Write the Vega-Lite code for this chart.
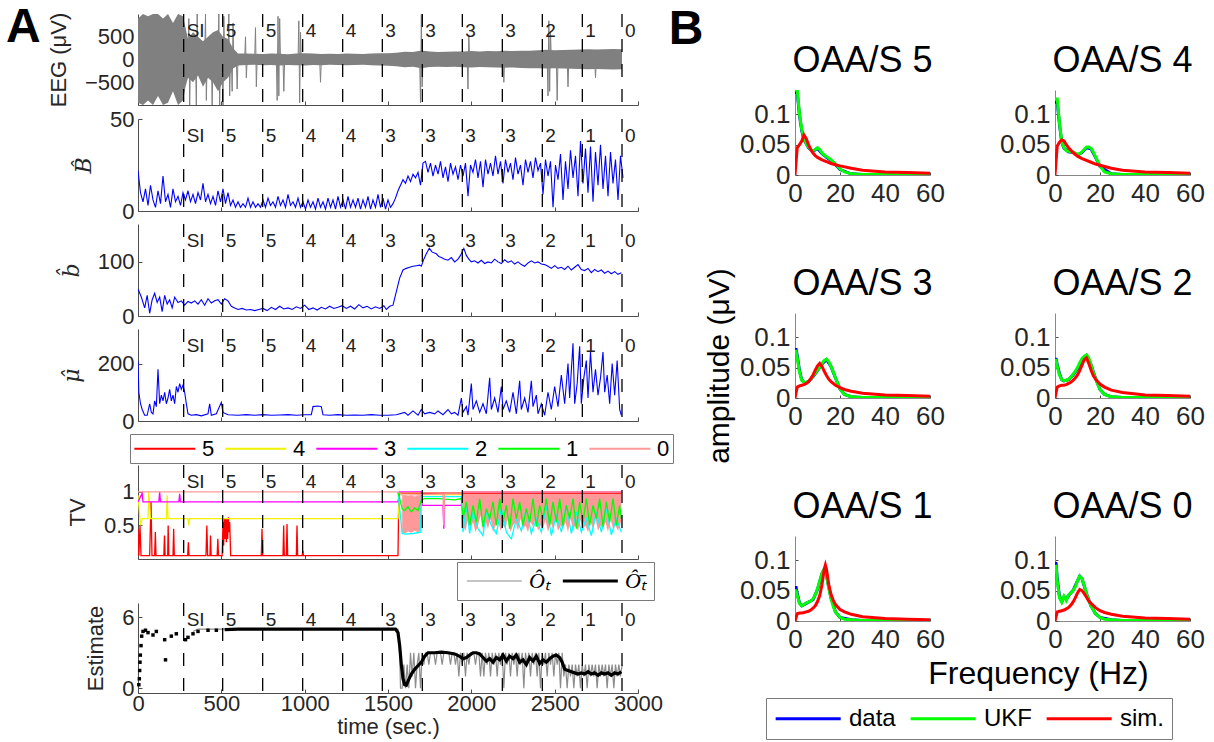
{
"$schema":"https://vega.github.io/schema/vega-lite/v6.json",
"padding":{"left":6,"top":4,"right":0,"bottom":0},
"config":{
 "font":"Liberation Sans",
 "view":{"stroke":null},
 "axis":{"grid":false,"domainColor":"#4d4d4d","tickColor":"#4d4d4d","labelColor":"#262626","titleColor":"#262626","labelFont":"Liberation Sans","titleFont":"Liberation Sans","titleFontWeight":"normal","labelFontSize":22,"titleFontSize":22,"tickSize":-4,"labelPadding":8,"titlePadding":14,"labelFlush":false,"labelOverlap":false},
 "title":{"font":"Liberation Sans","fontWeight":"normal","color":"#000000"},
 "legend":{"labelFont":"Liberation Sans","labelColor":"#000000","strokeColor":"#7a7a7a","fillColor":"#ffffff"}
},
"resolve":{"scale":{"color":"independent","strokeWidth":"independent"},"legend":{"color":"independent","strokeWidth":"independent"}},
"spacing":-6,
"hconcat":[
{
 "title":{"text":"A","orient":"left","anchor":"end","angle":0,"align":"right","baseline":"top","fontSize":48,"fontWeight":"bold","offset":-28,"dy":-8,"frame":"bounds"},
 "spacing":1,
 "resolve":{"scale":{"color":"independent","strokeWidth":"independent"},"legend":{"color":"independent","strokeWidth":"independent"}},
 "vconcat":[
  {"width":500,"height":91,"layer":[
   {"data":{"name":"eegband"},"mark":{"type":"area","color":"#808080","opacity":1,"clip":true},
    "encoding":{"x":{"field":"t","type":"quantitative","scale":{"domain":[0,3000],"nice":false,"zero":false},"axis":{"values":[0,500,1000,1500,2000,2500,3000],"labels":false,"title":null}},
     "y":{"field":"lo","type":"quantitative","scale":{"domain":[-1000,1000],"nice":false,"zero":false},"axis":{"values":[-500,0,500],"format":"~f","title":"EEG (μV)"}},
     "y2":{"field":"hi"}}},
   {"data":{"name":"eegspk"},"mark":{"type":"line","color":"#808080","strokeWidth":1,"clip":true},"encoding":{"x":{"field":"t","type":"quantitative"},"y":{"field":"v","type":"quantitative"}}},
   {"data":{"name":"events"},"mark":{"type":"rule","color":"#000000","strokeDash":[13,12],"strokeWidth":1.3},"encoding":{"x":{"field":"t","type":"quantitative"}}},
   {"data":{"name":"events"},"mark":{"type":"text","align":"left","baseline":"top","dx":3,"dy":8,"fontSize":19,"color":"#222222"},"encoding":{"x":{"field":"t","type":"quantitative"},"y":{"datum":1000},"text":{"field":"label"}}}
  ]},
  {"width":500,"height":92,"layer":[
   {"data":{"name":"Bhat"},"mark":{"type":"line","color":"#0000ff","strokeWidth":1.1,"clip":true},
    "encoding":{"x":{"field":"t","type":"quantitative","scale":{"domain":[0,3000],"nice":false,"zero":false},"axis":{"values":[0,500,1000,1500,2000,2500,3000],"labels":false,"title":null}},
     "y":{"field":"v","type":"quantitative","scale":{"domain":[0,50],"nice":false},"axis":{"values":[0,50],"format":"~f","title":"B̂","titleFont":"DejaVu Serif","titleFontStyle":"italic","titleFontSize":22}}}},
   {"data":{"name":"events"},"mark":{"type":"rule","color":"#000000","strokeDash":[13,12],"strokeWidth":1.3},"encoding":{"x":{"field":"t","type":"quantitative"}}},
   {"data":{"name":"events"},"mark":{"type":"text","align":"left","baseline":"top","dx":3,"dy":8,"fontSize":19,"color":"#222222"},"encoding":{"x":{"field":"t","type":"quantitative"},"y":{"datum":50},"text":{"field":"label"}}}
  ]},
  {"width":500,"height":92,"layer":[
   {"data":{"name":"bhat"},"mark":{"type":"line","color":"#0000ff","strokeWidth":1.1,"clip":true},
    "encoding":{"x":{"field":"t","type":"quantitative","scale":{"domain":[0,3000],"nice":false,"zero":false},"axis":{"values":[0,500,1000,1500,2000,2500,3000],"labels":false,"title":null}},
     "y":{"field":"v","type":"quantitative","scale":{"domain":[0,170],"nice":false},"axis":{"values":[0,100],"format":"~f","title":"b̂","titleFont":"DejaVu Serif","titleFontStyle":"italic","titleFontSize":22}}}},
   {"data":{"name":"events"},"mark":{"type":"rule","color":"#000000","strokeDash":[13,12],"strokeWidth":1.3},"encoding":{"x":{"field":"t","type":"quantitative"}}},
   {"data":{"name":"events"},"mark":{"type":"text","align":"left","baseline":"top","dx":3,"dy":8,"fontSize":19,"color":"#222222"},"encoding":{"x":{"field":"t","type":"quantitative"},"y":{"datum":170},"text":{"field":"label"}}}
  ]},
  {"width":500,"height":92,"layer":[
   {"data":{"name":"mu"},"mark":{"type":"line","color":"#0000ff","strokeWidth":1.1,"clip":true},
    "encoding":{"x":{"field":"t","type":"quantitative","scale":{"domain":[0,3000],"nice":false,"zero":false},"axis":{"values":[0,500,1000,1500,2000,2500,3000],"labels":false,"title":null}},
     "y":{"field":"v","type":"quantitative","scale":{"domain":[0,320],"nice":false},"axis":{"values":[0,200],"format":"~f","title":"μ̂","titleFont":"DejaVu Serif","titleFontStyle":"italic","titleFontSize":22}}}},
   {"data":{"name":"events"},"mark":{"type":"rule","color":"#000000","strokeDash":[13,12],"strokeWidth":1.3},"encoding":{"x":{"field":"t","type":"quantitative"}}},
   {"data":{"name":"events"},"mark":{"type":"text","align":"left","baseline":"top","dx":3,"dy":8,"fontSize":19,"color":"#222222"},"encoding":{"x":{"field":"t","type":"quantitative"},"y":{"datum":320},"text":{"field":"label"}}}
  ]},
  {"width":500,"height":94,"layer":[
   {"data":{"name":"tvband"},"mark":{"type":"area","color":"#ff9999","opacity":1,"clip":true},
    "encoding":{"x":{"field":"t","type":"quantitative","scale":{"domain":[0,3000],"nice":false,"zero":false},"axis":{"values":[0,500,1000,1500,2000,2500,3000],"labels":false,"title":null}},
     "y":{"field":"lo","type":"quantitative","scale":{"domain":[0,1.4],"nice":false},"axis":{"values":[0.5,1],"format":"~f","title":"TV"}},
     "y2":{"field":"hi"},"detail":{"field":"g","type":"nominal"}}},
   {"data":{"name":"tv"},"mark":{"type":"line","strokeWidth":1.3,"clip":true},
    "encoding":{"x":{"field":"t","type":"quantitative"},
     "y":{"field":"v","type":"quantitative"},
     "color":{"field":"l","type":"nominal","sort":null,"scale":{"domain":["5","4","3","2","1","0"],"range":["#ff0000","#f2f200","#ff00ff","#00ffff","#00ff00","#ff9999"]},
      "legend":{"orient":"none","legendX":-8,"legendY":-31,"direction":"horizontal","columns":6,"title":null,"symbolType":"M-1,0H5","symbolSize":413,"symbolStrokeWidth":2,"labelOffset":46,"columnPadding":6,"labelFontSize":22,"padding":3}}}},
   {"data":{"name":"events"},"mark":{"type":"rule","color":"#000000","strokeDash":[13,12],"strokeWidth":1.3},"encoding":{"x":{"field":"t","type":"quantitative"}}},
   {"data":{"name":"events"},"mark":{"type":"text","align":"left","baseline":"top","dx":3,"dy":8,"fontSize":19,"color":"#222222"},"encoding":{"x":{"field":"t","type":"quantitative"},"y":{"datum":1.4},"text":{"field":"label"}}}
  ]},
  {"width":500,"height":90,"layer":[
   {"data":{"name":"est"},"mark":{"type":"line","clip":true},
    "encoding":{"x":{"field":"t","type":"quantitative","scale":{"domain":[0,3000],"nice":false,"zero":false},"axis":{"values":[0,500,1000,1500,2000,2500,3000],"labels":true,"title":"time (sec.)","format":"~f","labelPadding":4,"titlePadding":2}},
     "y":{"field":"v","type":"quantitative","scale":{"domain":[-0.4,7.2],"nice":false,"zero":false},"axis":{"values":[0,2,4,6],"format":"~f","title":"Estimate"}},
     "color":{"field":"s","type":"nominal","sort":null,"scale":{"domain":["hat","bar"],"range":["#8c8c8c","#000000"]},
      "legend":{"orient":"none","legendX":319,"legendY":-41,"direction":"horizontal","columns":2,"title":null,"symbolType":"M-1,0H5","symbolSize":336,"labelOffset":42,"columnPadding":6,"labelFontSize":22,"labelFont":"Liberation Serif","labelFontStyle":"italic","padding":8,"labelExpr":"datum.label == 'hat' ? 'O\u0302\u209c' : 'O\u0302\u0304\u209c'"}},
     "strokeWidth":{"field":"s","type":"nominal","sort":null,"scale":{"domain":["hat","bar"],"range":[1.2,3.2]},
      "legend":{"orient":"none","legendX":319,"legendY":-41,"direction":"horizontal","columns":2,"title":null,"symbolType":"M-1,0H5","symbolSize":336,"labelOffset":42,"columnPadding":6,"labelFontSize":22,"labelFont":"Liberation Serif","labelFontStyle":"italic","padding":8,"labelExpr":"datum.label == 'hat' ? 'O\u0302\u209c' : 'O\u0302\u0304\u209c'"}}}},
   {"data":{"name":"estdots"},"mark":{"type":"square","color":"#000000","size":12,"opacity":1},"encoding":{"x":{"field":"t","type":"quantitative"},"y":{"field":"v","type":"quantitative"}}},
   {"data":{"name":"events"},"mark":{"type":"rule","color":"#000000","strokeDash":[13,12],"strokeWidth":1.3},"encoding":{"x":{"field":"t","type":"quantitative"}}},
   {"data":{"name":"events"},"mark":{"type":"text","align":"left","baseline":"top","dx":3,"dy":8,"fontSize":19,"color":"#222222"},"encoding":{"x":{"field":"t","type":"quantitative"},"y":{"datum":7.2},"text":{"field":"label"}}}
  ]}
 ]
},
{
 "spacing":-11,
 "vconcat":[
  {"width":135,"height":24,"title":{"text":"B","orient":"left","anchor":"end","angle":0,"align":"right","baseline":"top","fontSize":48,"fontWeight":"bold","offset":57,"dy":-8,"frame":"group"},
   "data":{"values":[{"k":1}]},"mark":{"type":"text"},"encoding":{"text":{"value":""}}},
  {
  "title":{"text":"amplitude (μV)","orient":"left","anchor":"middle","frame":"bounds","fontSize":30,"offset":4,"color":"#000000"},
  "columns":2,
  "bounds":"flush",
  "spacing":{"row":138,"column":125},
  "concat":[
   {"title":{"text":"OAA/S 5","fontSize":36,"offset":10,"frame":"group"},"width":135,"height":85,"data":{"name":"spec"},"transform":[{"filter":"datum.p == 5"}],"mark":{"type":"line","strokeWidth":3,"clip":true},
    "encoding":{"x":{"field":"f","type":"quantitative","scale":{"domain":[0,60],"nice":false},"axis":{"values":[0,20,40,60],"title":null,"labelFontSize":26,"domainColor":"#888888","tickSize":-3,"labelPadding":8}},
     "y":{"field":"a","type":"quantitative","scale":{"domain":[0,0.14],"nice":false},"axis":{"values":[0,0.05,0.1],"format":"~f","title":null,"labelFontSize":26,"domainColor":"#888888","tickSize":-3,"labelPadding":8}},
     "color":{"field":"s","type":"nominal","sort":null,"scale":{"domain":["data","UKF","sim."],"range":["#0000ff","#00ff00","#ff0000"]},
      "legend":{"orient":"none","legendX":-29,"legendY":684,"direction":"horizontal","columns":3,"title":null,"symbolType":"M-1,0H5","symbolSize":470,"symbolStrokeWidth":3,"labelOffset":50,"columnPadding":8,"labelFontSize":24,"padding":8}}}},
   {"title":{"text":"OAA/S 4","fontSize":36,"offset":10,"frame":"group"},"width":135,"height":85,"data":{"name":"spec"},"transform":[{"filter":"datum.p == 4"}],"mark":{"type":"line","strokeWidth":3,"clip":true},
    "encoding":{"x":{"field":"f","type":"quantitative","scale":{"domain":[0,60],"nice":false},"axis":{"values":[0,20,40,60],"title":null,"labelFontSize":26,"domainColor":"#888888","tickSize":-3,"labelPadding":8}},
     "y":{"field":"a","type":"quantitative","scale":{"domain":[0,0.14],"nice":false},"axis":{"values":[0,0.05,0.1],"format":"~f","title":null,"labelFontSize":26,"domainColor":"#888888","tickSize":-3,"labelPadding":8}},
     "color":{"field":"s","type":"nominal","sort":null}}},
   {"title":{"text":"OAA/S 3","fontSize":36,"offset":10,"frame":"group"},"width":135,"height":85,"data":{"name":"spec"},"transform":[{"filter":"datum.p == 3"}],"mark":{"type":"line","strokeWidth":3,"clip":true},
    "encoding":{"x":{"field":"f","type":"quantitative","scale":{"domain":[0,60],"nice":false},"axis":{"values":[0,20,40,60],"title":null,"labelFontSize":26,"domainColor":"#888888","tickSize":-3,"labelPadding":8}},
     "y":{"field":"a","type":"quantitative","scale":{"domain":[0,0.14],"nice":false},"axis":{"values":[0,0.05,0.1],"format":"~f","title":null,"labelFontSize":26,"domainColor":"#888888","tickSize":-3,"labelPadding":8}},
     "color":{"field":"s","type":"nominal","sort":null}}},
   {"title":{"text":"OAA/S 2","fontSize":36,"offset":10,"frame":"group"},"width":135,"height":85,"data":{"name":"spec"},"transform":[{"filter":"datum.p == 2"}],"mark":{"type":"line","strokeWidth":3,"clip":true},
    "encoding":{"x":{"field":"f","type":"quantitative","scale":{"domain":[0,60],"nice":false},"axis":{"values":[0,20,40,60],"title":null,"labelFontSize":26,"domainColor":"#888888","tickSize":-3,"labelPadding":8}},
     "y":{"field":"a","type":"quantitative","scale":{"domain":[0,0.14],"nice":false},"axis":{"values":[0,0.05,0.1],"format":"~f","title":null,"labelFontSize":26,"domainColor":"#888888","tickSize":-3,"labelPadding":8}},
     "color":{"field":"s","type":"nominal","sort":null}}},
   {"title":{"text":"OAA/S 1","fontSize":36,"offset":10,"frame":"group"},"width":135,"height":85,"data":{"name":"spec"},"transform":[{"filter":"datum.p == 1"}],"mark":{"type":"line","strokeWidth":3,"clip":true},
    "encoding":{"x":{"field":"f","type":"quantitative","scale":{"domain":[0,60],"nice":false},"axis":{"values":[0,20,40,60],"title":null,"labelFontSize":26,"domainColor":"#888888","tickSize":-3,"labelPadding":8}},
     "y":{"field":"a","type":"quantitative","scale":{"domain":[0,0.14],"nice":false},"axis":{"values":[0,0.05,0.1],"format":"~f","title":null,"labelFontSize":26,"domainColor":"#888888","tickSize":-3,"labelPadding":8}},
     "color":{"field":"s","type":"nominal","sort":null}}},
   {"title":{"text":"OAA/S 0","fontSize":36,"offset":10,"frame":"group"},"width":135,"height":85,"data":{"name":"spec"},"transform":[{"filter":"datum.p == 0"}],"mark":{"type":"line","strokeWidth":3,"clip":true},
    "encoding":{"x":{"field":"f","type":"quantitative","scale":{"domain":[0,60],"nice":false},"axis":{"values":[0,20,40,60],"title":"Frequency (Hz)","titleFontSize":32,"titleColor":"#000000","titleX":-17,"titlePadding":6,"labelFontSize":26,"domainColor":"#888888","tickSize":-3,"labelPadding":8}},
     "y":{"field":"a","type":"quantitative","scale":{"domain":[0,0.14],"nice":false},"axis":{"values":[0,0.05,0.1],"format":"~f","title":null,"labelFontSize":26,"domainColor":"#888888","tickSize":-3,"labelPadding":8}},
     "color":{"field":"s","type":"nominal","sort":null}}}
  ]
  }
 ]
}
],
"datasets":{
"events":[{"t":274,"label":"SI"},{"t":508,"label":"5"},{"t":748,"label":"5"},{"t":988,"label":"4"},{"t":1228,"label":"4"},{"t":1466,"label":"3"},{"t":1706,"label":"3"},{"t":1946,"label":"3"},{"t":2186,"label":"3"},{"t":2426,"label":"2"},{"t":2666,"label":"1"},{"t":2904,"label":"0"}],
"eegband":[{"t":0,"lo":-950,"hi":900},{"t":30,"lo":-1000,"hi":1000},{"t":60,"lo":-900,"hi":950},{"t":90,"lo":-1000,"hi":1000},{"t":120,"lo":-800,"hi":1000},{"t":150,"lo":-1000,"hi":900},{"t":180,"lo":-950,"hi":1000},{"t":210,"lo":-700,"hi":800},{"t":240,"lo":-1000,"hi":1000},{"t":270,"lo":-900,"hi":950},{"t":285,"lo":-600,"hi":700},{"t":300,"lo":-400,"hi":450},{"t":330,"lo":-500,"hi":600},{"t":360,"lo":-350,"hi":500},{"t":390,"lo":-600,"hi":400},{"t":420,"lo":-400,"hi":500},{"t":450,"lo":-500,"hi":600},{"t":480,"lo":-700,"hi":650},{"t":510,"lo":-500,"hi":500},{"t":540,"lo":-400,"hi":450},{"t":570,"lo":-200,"hi":250},{"t":600,"lo":-130,"hi":130},{"t":650,"lo":-120,"hi":130},{"t":700,"lo":-115,"hi":125},{"t":750,"lo":-125,"hi":120},{"t":800,"lo":-120,"hi":130},{"t":850,"lo":-130,"hi":125},{"t":900,"lo":-120,"hi":115},{"t":950,"lo":-125,"hi":130},{"t":1000,"lo":-130,"hi":140},{"t":1050,"lo":-120,"hi":130},{"t":1100,"lo":-125,"hi":120},{"t":1150,"lo":-115,"hi":125},{"t":1200,"lo":-120,"hi":120},{"t":1250,"lo":-125,"hi":130},{"t":1300,"lo":-120,"hi":125},{"t":1350,"lo":-115,"hi":120},{"t":1400,"lo":-125,"hi":130},{"t":1450,"lo":-130,"hi":135},{"t":1500,"lo":-135,"hi":140},{"t":1550,"lo":-150,"hi":150},{"t":1600,"lo":-170,"hi":170},{"t":1650,"lo":-160,"hi":165},{"t":1700,"lo":-190,"hi":200},{"t":1750,"lo":-165,"hi":175},{"t":1800,"lo":-160,"hi":165},{"t":1850,"lo":-165,"hi":170},{"t":1900,"lo":-160,"hi":175},{"t":1950,"lo":-170,"hi":175},{"t":2000,"lo":-175,"hi":185},{"t":2050,"lo":-165,"hi":175},{"t":2100,"lo":-170,"hi":185},{"t":2150,"lo":-175,"hi":180},{"t":2200,"lo":-180,"hi":190},{"t":2250,"lo":-175,"hi":185},{"t":2300,"lo":-185,"hi":195},{"t":2350,"lo":-190,"hi":195},{"t":2400,"lo":-195,"hi":205},{"t":2450,"lo":-200,"hi":215},{"t":2500,"lo":-195,"hi":205},{"t":2550,"lo":-200,"hi":210},{"t":2600,"lo":-205,"hi":215},{"t":2650,"lo":-210,"hi":220},{"t":2700,"lo":-215,"hi":225},{"t":2750,"lo":-210,"hi":220},{"t":2800,"lo":-215,"hi":225},{"t":2850,"lo":-220,"hi":230},{"t":2904,"lo":-215,"hi":225}],
"eegspk":[{"t":0,"v":0},{"t":300,"v":0},{"t":305,"v":900},{"t":310,"v":-1000},{"t":315,"v":0},{"t":345,"v":0},{"t":350,"v":-1000},{"t":355,"v":1000},{"t":360,"v":0},{"t":400,"v":0},{"t":405,"v":1000},{"t":410,"v":-900},{"t":415,"v":0},{"t":440,"v":0},{"t":445,"v":-1000},{"t":450,"v":0},{"t":480,"v":0},{"t":485,"v":1000},{"t":490,"v":-1000},{"t":495,"v":0},{"t":505,"v":0},{"t":510,"v":-1000},{"t":515,"v":950},{"t":520,"v":0},{"t":540,"v":0},{"t":545,"v":1000},{"t":550,"v":-800},{"t":555,"v":0},{"t":560,"v":0},{"t":565,"v":-700},{"t":570,"v":800},{"t":575,"v":0},{"t":590,"v":0},{"t":595,"v":-650},{"t":600,"v":0},{"t":640,"v":0},{"t":645,"v":500},{"t":650,"v":-400},{"t":655,"v":0},{"t":700,"v":0},{"t":705,"v":700},{"t":710,"v":-600},{"t":715,"v":0},{"t":830,"v":0},{"t":835,"v":-900},{"t":840,"v":950},{"t":845,"v":-800},{"t":850,"v":900},{"t":855,"v":0},{"t":870,"v":0},{"t":875,"v":-700},{"t":880,"v":0},{"t":960,"v":0},{"t":965,"v":850},{"t":970,"v":-950},{"t":975,"v":600},{"t":980,"v":0},{"t":1090,"v":0},{"t":1095,"v":-500},{"t":1100,"v":0},{"t":1690,"v":0},{"t":1695,"v":-950},{"t":1700,"v":990},{"t":1705,"v":-600},{"t":1710,"v":0},{"t":1975,"v":0},{"t":1980,"v":-650},{"t":1985,"v":500},{"t":1990,"v":0},{"t":2190,"v":0},{"t":2195,"v":-500},{"t":2200,"v":0},{"t":2455,"v":0},{"t":2460,"v":-800},{"t":2465,"v":850},{"t":2470,"v":-700},{"t":2475,"v":600},{"t":2480,"v":0},{"t":2510,"v":0},{"t":2515,"v":-900},{"t":2520,"v":0},{"t":2575,"v":0},{"t":2580,"v":-600},{"t":2585,"v":0},{"t":2740,"v":0},{"t":2745,"v":-400},{"t":2750,"v":0},{"t":2904,"v":0}],
"Bhat":[{"t":0,"v":22},{"t":15,"v":10},{"t":30,"v":5},{"t":45,"v":12},{"t":60,"v":3},{"t":75,"v":14},{"t":90,"v":6},{"t":105,"v":2},{"t":120,"v":11},{"t":135,"v":4},{"t":150,"v":19},{"t":165,"v":5},{"t":180,"v":9},{"t":195,"v":2},{"t":210,"v":12},{"t":225,"v":5},{"t":240,"v":8},{"t":255,"v":3},{"t":270,"v":10},{"t":285,"v":6},{"t":300,"v":11},{"t":315,"v":5},{"t":330,"v":9},{"t":345,"v":4},{"t":360,"v":10},{"t":375,"v":6},{"t":390,"v":15},{"t":405,"v":5},{"t":420,"v":9},{"t":435,"v":4},{"t":450,"v":8},{"t":465,"v":3},{"t":480,"v":11},{"t":495,"v":5},{"t":510,"v":12},{"t":525,"v":4},{"t":540,"v":10},{"t":555,"v":3},{"t":570,"v":6},{"t":585,"v":2},{"t":600,"v":5},{"t":615,"v":2},{"t":630,"v":4},{"t":645,"v":2},{"t":660,"v":7},{"t":675,"v":2},{"t":690,"v":5},{"t":705,"v":2},{"t":720,"v":4},{"t":735,"v":2},{"t":750,"v":6},{"t":765,"v":2},{"t":780,"v":7},{"t":795,"v":3},{"t":810,"v":5},{"t":825,"v":2},{"t":840,"v":8},{"t":855,"v":3},{"t":870,"v":6},{"t":885,"v":2},{"t":900,"v":9},{"t":915,"v":3},{"t":930,"v":5},{"t":945,"v":2},{"t":960,"v":7},{"t":975,"v":2},{"t":990,"v":5},{"t":1005,"v":1},{"t":1020,"v":6},{"t":1035,"v":2},{"t":1050,"v":5},{"t":1065,"v":1},{"t":1080,"v":7},{"t":1095,"v":2},{"t":1110,"v":5},{"t":1125,"v":1},{"t":1140,"v":7},{"t":1155,"v":2},{"t":1170,"v":6},{"t":1185,"v":1},{"t":1200,"v":8},{"t":1215,"v":2},{"t":1230,"v":6},{"t":1245,"v":1},{"t":1260,"v":8},{"t":1275,"v":2},{"t":1290,"v":6},{"t":1305,"v":2},{"t":1320,"v":7},{"t":1335,"v":1},{"t":1350,"v":6},{"t":1365,"v":2},{"t":1380,"v":8},{"t":1395,"v":1},{"t":1410,"v":6},{"t":1425,"v":2},{"t":1440,"v":9},{"t":1455,"v":2},{"t":1470,"v":7},{"t":1485,"v":1},{"t":1500,"v":6},{"t":1515,"v":2},{"t":1530,"v":4},{"t":1545,"v":7},{"t":1560,"v":11},{"t":1575,"v":14},{"t":1590,"v":17},{"t":1605,"v":15},{"t":1620,"v":19},{"t":1635,"v":16},{"t":1650,"v":20},{"t":1665,"v":18},{"t":1680,"v":21},{"t":1695,"v":14},{"t":1710,"v":26},{"t":1725,"v":27},{"t":1740,"v":21},{"t":1755,"v":26},{"t":1770,"v":19},{"t":1785,"v":25},{"t":1800,"v":20},{"t":1815,"v":27},{"t":1830,"v":18},{"t":1845,"v":24},{"t":1860,"v":16},{"t":1875,"v":26},{"t":1890,"v":20},{"t":1905,"v":24},{"t":1920,"v":17},{"t":1935,"v":25},{"t":1950,"v":19},{"t":1965,"v":26},{"t":1980,"v":8},{"t":1995,"v":25},{"t":2010,"v":21},{"t":2025,"v":28},{"t":2040,"v":18},{"t":2055,"v":27},{"t":2070,"v":13},{"t":2085,"v":28},{"t":2100,"v":20},{"t":2115,"v":26},{"t":2130,"v":19},{"t":2145,"v":30},{"t":2160,"v":20},{"t":2175,"v":27},{"t":2190,"v":15},{"t":2205,"v":28},{"t":2220,"v":21},{"t":2235,"v":26},{"t":2250,"v":17},{"t":2265,"v":29},{"t":2280,"v":20},{"t":2295,"v":25},{"t":2310,"v":14},{"t":2325,"v":28},{"t":2340,"v":21},{"t":2355,"v":27},{"t":2370,"v":18},{"t":2385,"v":29},{"t":2400,"v":22},{"t":2415,"v":26},{"t":2430,"v":9},{"t":2445,"v":28},{"t":2460,"v":19},{"t":2475,"v":27},{"t":2490,"v":2},{"t":2505,"v":25},{"t":2520,"v":17},{"t":2535,"v":31},{"t":2550,"v":6},{"t":2565,"v":27},{"t":2580,"v":12},{"t":2595,"v":33},{"t":2610,"v":18},{"t":2625,"v":30},{"t":2640,"v":8},{"t":2655,"v":38},{"t":2670,"v":15},{"t":2685,"v":34},{"t":2700,"v":10},{"t":2715,"v":35},{"t":2730,"v":5},{"t":2745,"v":32},{"t":2760,"v":14},{"t":2775,"v":36},{"t":2790,"v":12},{"t":2805,"v":30},{"t":2820,"v":8},{"t":2835,"v":32},{"t":2850,"v":15},{"t":2865,"v":28},{"t":2880,"v":6},{"t":2895,"v":30},{"t":2910,"v":18}],
"bhat":[{"t":0,"v":50},{"t":20,"v":35},{"t":40,"v":15},{"t":55,"v":38},{"t":70,"v":5},{"t":85,"v":30},{"t":100,"v":42},{"t":115,"v":25},{"t":130,"v":35},{"t":145,"v":8},{"t":160,"v":38},{"t":175,"v":22},{"t":190,"v":30},{"t":205,"v":15},{"t":220,"v":35},{"t":240,"v":25},{"t":260,"v":28},{"t":280,"v":20},{"t":300,"v":27},{"t":320,"v":24},{"t":340,"v":28},{"t":360,"v":22},{"t":380,"v":30},{"t":400,"v":20},{"t":420,"v":32},{"t":440,"v":24},{"t":460,"v":28},{"t":480,"v":30},{"t":500,"v":22},{"t":520,"v":32},{"t":540,"v":28},{"t":560,"v":18},{"t":580,"v":15},{"t":600,"v":12},{"t":625,"v":14},{"t":650,"v":11},{"t":675,"v":12},{"t":700,"v":10},{"t":725,"v":12},{"t":750,"v":14},{"t":775,"v":10},{"t":800,"v":16},{"t":825,"v":12},{"t":850,"v":18},{"t":875,"v":13},{"t":900,"v":15},{"t":925,"v":12},{"t":950,"v":17},{"t":975,"v":14},{"t":1000,"v":20},{"t":1025,"v":12},{"t":1050,"v":15},{"t":1075,"v":11},{"t":1100,"v":16},{"t":1125,"v":13},{"t":1150,"v":18},{"t":1175,"v":14},{"t":1200,"v":16},{"t":1225,"v":19},{"t":1250,"v":14},{"t":1275,"v":18},{"t":1300,"v":13},{"t":1325,"v":21},{"t":1350,"v":15},{"t":1375,"v":18},{"t":1400,"v":13},{"t":1425,"v":17},{"t":1450,"v":14},{"t":1475,"v":19},{"t":1490,"v":12},{"t":1510,"v":18},{"t":1530,"v":20},{"t":1550,"v":45},{"t":1570,"v":70},{"t":1590,"v":85},{"t":1610,"v":88},{"t":1630,"v":90},{"t":1650,"v":92},{"t":1670,"v":93},{"t":1690,"v":94},{"t":1700,"v":92},{"t":1715,"v":105},{"t":1730,"v":115},{"t":1748,"v":125},{"t":1765,"v":118},{"t":1790,"v":115},{"t":1805,"v":110},{"t":1820,"v":108},{"t":1840,"v":105},{"t":1860,"v":103},{"t":1880,"v":108},{"t":1900,"v":100},{"t":1920,"v":105},{"t":1935,"v":112},{"t":1955,"v":125},{"t":1970,"v":112},{"t":1985,"v":105},{"t":2000,"v":100},{"t":2020,"v":102},{"t":2040,"v":98},{"t":2060,"v":103},{"t":2080,"v":97},{"t":2100,"v":100},{"t":2120,"v":98},{"t":2140,"v":105},{"t":2160,"v":100},{"t":2180,"v":97},{"t":2200,"v":104},{"t":2220,"v":99},{"t":2240,"v":102},{"t":2260,"v":96},{"t":2280,"v":100},{"t":2300,"v":95},{"t":2320,"v":92},{"t":2340,"v":98},{"t":2360,"v":102},{"t":2380,"v":98},{"t":2400,"v":100},{"t":2420,"v":96},{"t":2440,"v":95},{"t":2460,"v":92},{"t":2480,"v":88},{"t":2500,"v":93},{"t":2520,"v":88},{"t":2540,"v":90},{"t":2560,"v":86},{"t":2580,"v":92},{"t":2600,"v":85},{"t":2620,"v":90},{"t":2640,"v":95},{"t":2660,"v":86},{"t":2680,"v":84},{"t":2700,"v":88},{"t":2720,"v":80},{"t":2740,"v":86},{"t":2760,"v":82},{"t":2780,"v":85},{"t":2800,"v":79},{"t":2820,"v":83},{"t":2840,"v":78},{"t":2860,"v":82},{"t":2880,"v":77},{"t":2900,"v":80}],
"mu":[{"t":0,"v":210},{"t":5,"v":100},{"t":15,"v":60},{"t":25,"v":40},{"t":40,"v":20},{"t":55,"v":20},{"t":70,"v":60},{"t":80,"v":30},{"t":90,"v":25},{"t":100,"v":70},{"t":110,"v":50},{"t":120,"v":180},{"t":130,"v":60},{"t":140,"v":90},{"t":150,"v":70},{"t":160,"v":100},{"t":170,"v":60},{"t":180,"v":80},{"t":190,"v":110},{"t":200,"v":70},{"t":210,"v":90},{"t":220,"v":60},{"t":230,"v":120},{"t":240,"v":100},{"t":250,"v":130},{"t":260,"v":110},{"t":270,"v":125},{"t":280,"v":100},{"t":290,"v":60},{"t":300,"v":25},{"t":320,"v":20},{"t":350,"v":22},{"t":380,"v":18},{"t":420,"v":25},{"t":430,"v":60},{"t":440,"v":20},{"t":470,"v":25},{"t":500,"v":65},{"t":510,"v":30},{"t":540,"v":22},{"t":600,"v":20},{"t":650,"v":22},{"t":700,"v":20},{"t":750,"v":22},{"t":800,"v":20},{"t":850,"v":21},{"t":900,"v":22},{"t":950,"v":20},{"t":1000,"v":22},{"t":1040,"v":22},{"t":1050,"v":50},{"t":1080,"v":52},{"t":1100,"v":50},{"t":1110,"v":22},{"t":1150,"v":20},{"t":1200,"v":22},{"t":1250,"v":20},{"t":1300,"v":21},{"t":1350,"v":20},{"t":1400,"v":22},{"t":1450,"v":20},{"t":1500,"v":20},{"t":1550,"v":22},{"t":1600,"v":30},{"t":1620,"v":20},{"t":1650,"v":35},{"t":1680,"v":20},{"t":1700,"v":40},{"t":1720,"v":25},{"t":1750,"v":30},{"t":1780,"v":25},{"t":1800,"v":35},{"t":1830,"v":22},{"t":1860,"v":40},{"t":1880,"v":25},{"t":1900,"v":30},{"t":1920,"v":20},{"t":1940,"v":80},{"t":1950,"v":30},{"t":1970,"v":50},{"t":1980,"v":20},{"t":2000,"v":130},{"t":2010,"v":40},{"t":2030,"v":70},{"t":2050,"v":30},{"t":2070,"v":60},{"t":2090,"v":25},{"t":2110,"v":150},{"t":2120,"v":40},{"t":2140,"v":80},{"t":2160,"v":30},{"t":2180,"v":120},{"t":2190,"v":40},{"t":2210,"v":70},{"t":2230,"v":30},{"t":2250,"v":100},{"t":2270,"v":25},{"t":2290,"v":140},{"t":2300,"v":40},{"t":2320,"v":80},{"t":2340,"v":30},{"t":2360,"v":140},{"t":2370,"v":50},{"t":2390,"v":90},{"t":2400,"v":25},{"t":2420,"v":60},{"t":2440,"v":20},{"t":2460,"v":100},{"t":2480,"v":40},{"t":2500,"v":120},{"t":2520,"v":50},{"t":2540,"v":160},{"t":2560,"v":60},{"t":2580,"v":200},{"t":2590,"v":80},{"t":2610,"v":270},{"t":2620,"v":60},{"t":2635,"v":130},{"t":2650,"v":260},{"t":2660,"v":60},{"t":2675,"v":150},{"t":2690,"v":210},{"t":2700,"v":80},{"t":2715,"v":240},{"t":2730,"v":100},{"t":2745,"v":180},{"t":2760,"v":90},{"t":2775,"v":150},{"t":2790,"v":240},{"t":2800,"v":100},{"t":2815,"v":160},{"t":2830,"v":60},{"t":2845,"v":200},{"t":2860,"v":90},{"t":2875,"v":210},{"t":2890,"v":40},{"t":2900,"v":20}],
"tvband":[{"t":1585,"lo":0.4,"hi":0.95,"g":"a"},{"t":1600,"lo":0.38,"hi":0.95,"g":"a"},{"t":1620,"lo":0.41,"hi":0.94,"g":"a"},{"t":1640,"lo":0.39,"hi":0.95,"g":"a"},{"t":1660,"lo":0.42,"hi":0.93,"g":"a"},{"t":1680,"lo":0.4,"hi":0.95,"g":"a"},{"t":1700,"lo":0.42,"hi":0.95,"g":"a"},
{"t":1950,"lo":0.5,"hi":1.0,"g":"b"},{"t":1965,"lo":0.42,"hi":0.98,"g":"b"},{"t":1980,"lo":0.6,"hi":1.0,"g":"b"},{"t":1995,"lo":0.45,"hi":0.99,"g":"b"},{"t":2010,"lo":0.55,"hi":1.0,"g":"b"},{"t":2025,"lo":0.4,"hi":0.98,"g":"b"},{"t":2040,"lo":0.5,"hi":1.0,"g":"b"},{"t":2055,"lo":0.65,"hi":0.99,"g":"b"},{"t":2070,"lo":0.42,"hi":1.0,"g":"b"},{"t":2085,"lo":0.55,"hi":0.98,"g":"b"},{"t":2100,"lo":0.45,"hi":1.0,"g":"b"},{"t":2115,"lo":0.6,"hi":0.99,"g":"b"},{"t":2130,"lo":0.4,"hi":1.0,"g":"b"},{"t":2145,"lo":0.5,"hi":0.98,"g":"b"},{"t":2160,"lo":0.58,"hi":1.0,"g":"b"},{"t":2175,"lo":0.42,"hi":0.99,"g":"b"},{"t":2190,"lo":0.5,"hi":1.0,"g":"b"},{"t":2205,"lo":0.45,"hi":0.98,"g":"b"},{"t":2220,"lo":0.62,"hi":1.0,"g":"b"},{"t":2235,"lo":0.4,"hi":0.99,"g":"b"},{"t":2250,"lo":0.5,"hi":1.0,"g":"b"},{"t":2265,"lo":0.55,"hi":0.98,"g":"b"},{"t":2280,"lo":0.42,"hi":1.0,"g":"b"},{"t":2295,"lo":0.6,"hi":0.99,"g":"b"},{"t":2310,"lo":0.45,"hi":1.0,"g":"b"},{"t":2325,"lo":0.5,"hi":0.98,"g":"b"},{"t":2340,"lo":0.4,"hi":1.0,"g":"b"},{"t":2355,"lo":0.55,"hi":0.99,"g":"b"},{"t":2370,"lo":0.48,"hi":1.0,"g":"b"},{"t":2385,"lo":0.6,"hi":0.98,"g":"b"},{"t":2400,"lo":0.42,"hi":1.0,"g":"b"},{"t":2415,"lo":0.5,"hi":0.99,"g":"b"},{"t":2430,"lo":0.45,"hi":1.0,"g":"b"},{"t":2445,"lo":0.58,"hi":0.98,"g":"b"},{"t":2460,"lo":0.4,"hi":1.0,"g":"b"},{"t":2475,"lo":0.55,"hi":0.99,"g":"b"},{"t":2490,"lo":0.45,"hi":1.0,"g":"b"},{"t":2505,"lo":0.6,"hi":0.98,"g":"b"},{"t":2520,"lo":0.42,"hi":1.0,"g":"b"},{"t":2535,"lo":0.5,"hi":0.99,"g":"b"},{"t":2550,"lo":0.45,"hi":1.0,"g":"b"},{"t":2565,"lo":0.55,"hi":0.98,"g":"b"},{"t":2580,"lo":0.4,"hi":1.0,"g":"b"},{"t":2595,"lo":0.6,"hi":0.99,"g":"b"},{"t":2610,"lo":0.45,"hi":1.0,"g":"b"},{"t":2625,"lo":0.5,"hi":0.98,"g":"b"},{"t":2640,"lo":0.42,"hi":1.0,"g":"b"},{"t":2655,"lo":0.58,"hi":0.99,"g":"b"},{"t":2670,"lo":0.45,"hi":1.0,"g":"b"},{"t":2685,"lo":0.5,"hi":0.98,"g":"b"},{"t":2700,"lo":0.4,"hi":1.0,"g":"b"},{"t":2715,"lo":0.55,"hi":0.99,"g":"b"},{"t":2730,"lo":0.45,"hi":1.0,"g":"b"},{"t":2745,"lo":0.6,"hi":0.98,"g":"b"},{"t":2760,"lo":0.42,"hi":1.0,"g":"b"},{"t":2775,"lo":0.5,"hi":0.99,"g":"b"},{"t":2790,"lo":0.45,"hi":1.0,"g":"b"},{"t":2805,"lo":0.55,"hi":0.98,"g":"b"},{"t":2820,"lo":0.4,"hi":1.0,"g":"b"},{"t":2835,"lo":0.6,"hi":0.99,"g":"b"},{"t":2850,"lo":0.45,"hi":1.0,"g":"b"},{"t":2865,"lo":0.5,"hi":0.98,"g":"b"},{"t":2880,"lo":0.42,"hi":1.0,"g":"b"},{"t":2895,"lo":0.55,"hi":0.99,"g":"b"},{"t":2900,"lo":0.45,"hi":1.0,"g":"b"}],
"tv":[
{"t":0,"v":0.45,"l":"5"},{"t":5,"v":0.05,"l":"5"},{"t":12,"v":0.5,"l":"5"},{"t":18,"v":0.05,"l":"5"},{"t":70,"v":0.05,"l":"5"},{"t":78,"v":0.85,"l":"5"},{"t":84,"v":0.05,"l":"5"},{"t":100,"v":0.05,"l":"5"},{"t":104,"v":0.4,"l":"5"},{"t":108,"v":0.05,"l":"5"},{"t":155,"v":0.05,"l":"5"},{"t":159,"v":0.35,"l":"5"},{"t":163,"v":0.05,"l":"5"},{"t":178,"v":0.05,"l":"5"},{"t":181,"v":0.5,"l":"5"},{"t":185,"v":0.05,"l":"5"},{"t":210,"v":0.05,"l":"5"},{"t":214,"v":0.45,"l":"5"},{"t":218,"v":0.05,"l":"5"},{"t":298,"v":0.05,"l":"5"},{"t":302,"v":0.25,"l":"5"},{"t":306,"v":0.05,"l":"5"},{"t":408,"v":0.05,"l":"5"},{"t":413,"v":0.5,"l":"5"},{"t":418,"v":0.05,"l":"5"},{"t":432,"v":0.05,"l":"5"},{"t":435,"v":0.35,"l":"5"},{"t":439,"v":0.05,"l":"5"},{"t":475,"v":0.05,"l":"5"},{"t":479,"v":0.3,"l":"5"},{"t":483,"v":0.05,"l":"5"},{"t":505,"v":0.05,"l":"5"},{"t":510,"v":0.55,"l":"5"},{"t":514,"v":0.2,"l":"5"},{"t":518,"v":0.6,"l":"5"},{"t":522,"v":0.3,"l":"5"},{"t":526,"v":0.6,"l":"5"},{"t":530,"v":0.25,"l":"5"},{"t":534,"v":0.6,"l":"5"},{"t":538,"v":0.3,"l":"5"},{"t":542,"v":0.62,"l":"5"},{"t":546,"v":0.4,"l":"5"},{"t":550,"v":0.55,"l":"5"},{"t":556,"v":0.05,"l":"5"},{"t":740,"v":0.05,"l":"5"},{"t":744,"v":0.45,"l":"5"},{"t":748,"v":0.05,"l":"5"},{"t":870,"v":0.05,"l":"5"},{"t":874,"v":0.5,"l":"5"},{"t":878,"v":0.05,"l":"5"},{"t":890,"v":0.05,"l":"5"},{"t":894,"v":0.52,"l":"5"},{"t":898,"v":0.05,"l":"5"},{"t":950,"v":0.05,"l":"5"},{"t":954,"v":0.5,"l":"5"},{"t":958,"v":0.05,"l":"5"},{"t":985,"v":0.05,"l":"5"},{"t":989,"v":0.12,"l":"5"},{"t":993,"v":0.05,"l":"5"},{"t":1560,"v":0.05,"l":"5"},{"t":1565,"v":0.98,"l":"5"},{"t":2900,"v":0.98,"l":"5"},
{"t":0,"v":0.95,"l":"4"},{"t":15,"v":0.5,"l":"4"},{"t":25,"v":0.6,"l":"4"},{"t":60,"v":0.6,"l":"4"},{"t":65,"v":1.0,"l":"4"},{"t":75,"v":0.6,"l":"4"},{"t":170,"v":0.6,"l":"4"},{"t":175,"v":0.95,"l":"4"},{"t":180,"v":0.6,"l":"4"},{"t":300,"v":0.6,"l":"4"},{"t":305,"v":0.5,"l":"4"},{"t":310,"v":0.6,"l":"4"},{"t":1560,"v":0.6,"l":"4"},{"t":1570,"v":0.99,"l":"4"},{"t":1700,"v":0.99,"l":"4"},{"t":1705,"v":0.96,"l":"4"},{"t":1940,"v":0.96,"l":"4"},{"t":1950,"v":1.0,"l":"4"},{"t":2900,"v":1.0,"l":"4"},
{"t":0,"v":0.85,"l":"3"},{"t":25,"v":0.98,"l":"3"},{"t":30,"v":0.85,"l":"3"},{"t":125,"v":0.85,"l":"3"},{"t":130,"v":1.0,"l":"3"},{"t":135,"v":0.85,"l":"3"},{"t":245,"v":0.85,"l":"3"},{"t":250,"v":0.97,"l":"3"},{"t":255,"v":0.85,"l":"3"},{"t":1560,"v":0.85,"l":"3"},{"t":1570,"v":1.0,"l":"3"},{"t":1700,"v":1.0,"l":"3"},{"t":1705,"v":0.8,"l":"3"},{"t":1830,"v":0.8,"l":"3"},{"t":1835,"v":0.45,"l":"3"},{"t":1840,"v":0.8,"l":"3"},{"t":1940,"v":0.8,"l":"3"},{"t":1950,"v":1.0,"l":"3"},{"t":2900,"v":1.0,"l":"3"},
{"t":1560,"v":1.0,"l":"2"},{"t":1585,"v":0.38,"l":"2"},{"t":1600,"v":0.37,"l":"2"},{"t":1650,"v":0.38,"l":"2"},{"t":1695,"v":0.4,"l":"2"},{"t":1700,"v":0.93,"l":"2"},{"t":1940,"v":0.93,"l":"2"},{"t":1950,"v":0.4,"l":"2"},{"t":1970,"v":0.8,"l":"2"},{"t":1990,"v":0.38,"l":"2"},{"t":2010,"v":0.7,"l":"2"},{"t":2040,"v":0.45,"l":"2"},{"t":2070,"v":0.35,"l":"2"},{"t":2090,"v":0.7,"l":"2"},{"t":2120,"v":0.5,"l":"2"},{"t":2150,"v":0.38,"l":"2"},{"t":2180,"v":0.75,"l":"2"},{"t":2210,"v":0.4,"l":"2"},{"t":2240,"v":0.3,"l":"2"},{"t":2270,"v":0.6,"l":"2"},{"t":2300,"v":0.42,"l":"2"},{"t":2330,"v":0.75,"l":"2"},{"t":2360,"v":0.38,"l":"2"},{"t":2390,"v":0.6,"l":"2"},{"t":2420,"v":0.4,"l":"2"},{"t":2450,"v":0.8,"l":"2"},{"t":2480,"v":0.35,"l":"2"},{"t":2510,"v":0.65,"l":"2"},{"t":2540,"v":0.4,"l":"2"},{"t":2570,"v":0.8,"l":"2"},{"t":2600,"v":0.38,"l":"2"},{"t":2630,"v":0.7,"l":"2"},{"t":2660,"v":0.4,"l":"2"},{"t":2690,"v":0.6,"l":"2"},{"t":2720,"v":0.35,"l":"2"},{"t":2750,"v":0.7,"l":"2"},{"t":2780,"v":0.4,"l":"2"},{"t":2810,"v":0.75,"l":"2"},{"t":2840,"v":0.36,"l":"2"},{"t":2870,"v":0.6,"l":"2"},{"t":2900,"v":0.4,"l":"2"},
{"t":1560,"v":1.0,"l":"1"},{"t":1585,"v":0.75,"l":"1"},{"t":1600,"v":0.72,"l":"1"},{"t":1620,"v":0.78,"l":"1"},{"t":1640,"v":0.7,"l":"1"},{"t":1660,"v":0.76,"l":"1"},{"t":1680,"v":0.72,"l":"1"},{"t":1700,"v":0.88,"l":"1"},{"t":1720,"v":0.9,"l":"1"},{"t":1800,"v":0.9,"l":"1"},{"t":1900,"v":0.88,"l":"1"},{"t":1940,"v":0.9,"l":"1"},{"t":1950,"v":0.6,"l":"1"},{"t":1970,"v":0.85,"l":"1"},{"t":1990,"v":0.5,"l":"1"},{"t":2010,"v":0.8,"l":"1"},{"t":2030,"v":0.55,"l":"1"},{"t":2050,"v":0.9,"l":"1"},{"t":2070,"v":0.48,"l":"1"},{"t":2090,"v":0.75,"l":"1"},{"t":2110,"v":0.6,"l":"1"},{"t":2130,"v":0.85,"l":"1"},{"t":2150,"v":0.5,"l":"1"},{"t":2170,"v":0.9,"l":"1"},{"t":2190,"v":0.55,"l":"1"},{"t":2210,"v":0.8,"l":"1"},{"t":2230,"v":0.45,"l":"1"},{"t":2250,"v":0.9,"l":"1"},{"t":2270,"v":0.6,"l":"1"},{"t":2290,"v":0.85,"l":"1"},{"t":2310,"v":0.5,"l":"1"},{"t":2330,"v":0.75,"l":"1"},{"t":2350,"v":0.55,"l":"1"},{"t":2370,"v":0.9,"l":"1"},{"t":2390,"v":0.48,"l":"1"},{"t":2410,"v":0.8,"l":"1"},{"t":2430,"v":0.6,"l":"1"},{"t":2450,"v":0.9,"l":"1"},{"t":2470,"v":0.5,"l":"1"},{"t":2490,"v":0.85,"l":"1"},{"t":2510,"v":0.55,"l":"1"},{"t":2530,"v":0.9,"l":"1"},{"t":2550,"v":0.5,"l":"1"},{"t":2570,"v":0.8,"l":"1"},{"t":2590,"v":0.6,"l":"1"},{"t":2610,"v":0.9,"l":"1"},{"t":2630,"v":0.45,"l":"1"},{"t":2650,"v":0.85,"l":"1"},{"t":2670,"v":0.55,"l":"1"},{"t":2690,"v":0.9,"l":"1"},{"t":2710,"v":0.5,"l":"1"},{"t":2730,"v":0.8,"l":"1"},{"t":2750,"v":0.6,"l":"1"},{"t":2770,"v":0.9,"l":"1"},{"t":2790,"v":0.48,"l":"1"},{"t":2810,"v":0.85,"l":"1"},{"t":2830,"v":0.55,"l":"1"},{"t":2850,"v":0.9,"l":"1"},{"t":2870,"v":0.5,"l":"1"},{"t":2890,"v":0.8,"l":"1"},{"t":2900,"v":0.6,"l":"1"},
{"t":0,"v":1.0,"l":"0"},{"t":1560,"v":1.0,"l":"0"},{"t":1585,"v":0.95,"l":"0"},{"t":1700,"v":0.96,"l":"0"},{"t":1830,"v":0.97,"l":"0"},{"t":1835,"v":0.5,"l":"0"},{"t":1840,"v":0.97,"l":"0"},{"t":1940,"v":0.97,"l":"0"},{"t":1950,"v":1.0,"l":"0"},{"t":2900,"v":1.0,"l":"0"}
],
"est":[
{"t":330,"v":4.8,"s":"hat"},{"t":360,"v":5,"s":"hat"},{"t":800,"v":5,"s":"hat"},{"t":1560,"v":5,"s":"hat"},{"t":1570,"v":3,"s":"hat"},{"t":1575,"v":0,"s":"hat"},{"t":1585,"v":0,"s":"hat"},{"t":1595,"v":2,"s":"hat"},{"t":1605,"v":0,"s":"hat"},{"t":1615,"v":2,"s":"hat"},{"t":1625,"v":0,"s":"hat"},{"t":1635,"v":3,"s":"hat"},{"t":1645,"v":1,"s":"hat"},{"t":1655,"v":3,"s":"hat"},{"t":1665,"v":0,"s":"hat"},{"t":1675,"v":2,"s":"hat"},{"t":1685,"v":3,"s":"hat"},{"t":1695,"v":0,"s":"hat"},{"t":1705,"v":3,"s":"hat"},{"t":1715,"v":2,"s":"hat"},{"t":1725,"v":3,"s":"hat"},{"t":1735,"v":3,"s":"hat"},{"t":1745,"v":2,"s":"hat"},{"t":1755,"v":3,"s":"hat"},{"t":1775,"v":3,"s":"hat"},{"t":1785,"v":2,"s":"hat"},{"t":1795,"v":3,"s":"hat"},{"t":1815,"v":3,"s":"hat"},{"t":1825,"v":2,"s":"hat"},{"t":1835,"v":3,"s":"hat"},{"t":1865,"v":3,"s":"hat"},{"t":1875,"v":2,"s":"hat"},{"t":1885,"v":3,"s":"hat"},{"t":1895,"v":3,"s":"hat"},{"t":1905,"v":2,"s":"hat"},{"t":1915,"v":3,"s":"hat"},{"t":1925,"v":1,"s":"hat"},{"t":1935,"v":3,"s":"hat"},{"t":1945,"v":2,"s":"hat"},{"t":1955,"v":3,"s":"hat"},{"t":1965,"v":1,"s":"hat"},{"t":1975,"v":3,"s":"hat"},{"t":1985,"v":2,"s":"hat"},{"t":1995,"v":3,"s":"hat"},{"t":2015,"v":3,"s":"hat"},{"t":2025,"v":2,"s":"hat"},{"t":2035,"v":3,"s":"hat"},{"t":2045,"v":3,"s":"hat"},{"t":2055,"v":1,"s":"hat"},{"t":2065,"v":3,"s":"hat"},{"t":2075,"v":1,"s":"hat"},{"t":2085,"v":3,"s":"hat"},{"t":2095,"v":2,"s":"hat"},{"t":2105,"v":3,"s":"hat"},{"t":2115,"v":1,"s":"hat"},{"t":2125,"v":3,"s":"hat"},{"t":2135,"v":2,"s":"hat"},{"t":2145,"v":3,"s":"hat"},{"t":2155,"v":1,"s":"hat"},{"t":2165,"v":3,"s":"hat"},{"t":2175,"v":2,"s":"hat"},{"t":2185,"v":3,"s":"hat"},{"t":2195,"v":0,"s":"hat"},{"t":2205,"v":3,"s":"hat"},{"t":2215,"v":2,"s":"hat"},{"t":2225,"v":3,"s":"hat"},{"t":2235,"v":1,"s":"hat"},{"t":2245,"v":3,"s":"hat"},{"t":2255,"v":2,"s":"hat"},{"t":2265,"v":3,"s":"hat"},{"t":2275,"v":1,"s":"hat"},{"t":2285,"v":3,"s":"hat"},{"t":2295,"v":2,"s":"hat"},{"t":2305,"v":3,"s":"hat"},{"t":2315,"v":0,"s":"hat"},{"t":2325,"v":3,"s":"hat"},{"t":2335,"v":2,"s":"hat"},{"t":2345,"v":3,"s":"hat"},{"t":2355,"v":1,"s":"hat"},{"t":2365,"v":3,"s":"hat"},{"t":2375,"v":2,"s":"hat"},{"t":2385,"v":3,"s":"hat"},{"t":2395,"v":1,"s":"hat"},{"t":2405,"v":3,"s":"hat"},{"t":2415,"v":0,"s":"hat"},{"t":2425,"v":3,"s":"hat"},{"t":2435,"v":2,"s":"hat"},{"t":2445,"v":3,"s":"hat"},{"t":2455,"v":1,"s":"hat"},{"t":2465,"v":3,"s":"hat"},{"t":2475,"v":2,"s":"hat"},{"t":2485,"v":3,"s":"hat"},{"t":2495,"v":1,"s":"hat"},{"t":2505,"v":3,"s":"hat"},{"t":2515,"v":2,"s":"hat"},{"t":2525,"v":3,"s":"hat"},{"t":2535,"v":0,"s":"hat"},{"t":2545,"v":3,"s":"hat"},{"t":2555,"v":1,"s":"hat"},{"t":2565,"v":2,"s":"hat"},{"t":2575,"v":0,"s":"hat"},{"t":2585,"v":2,"s":"hat"},{"t":2595,"v":1,"s":"hat"},{"t":2605,"v":2,"s":"hat"},{"t":2615,"v":0,"s":"hat"},{"t":2625,"v":2,"s":"hat"},{"t":2635,"v":1,"s":"hat"},{"t":2645,"v":2,"s":"hat"},{"t":2655,"v":0,"s":"hat"},{"t":2665,"v":2,"s":"hat"},{"t":2675,"v":1,"s":"hat"},{"t":2685,"v":2,"s":"hat"},{"t":2695,"v":0,"s":"hat"},{"t":2705,"v":2,"s":"hat"},{"t":2715,"v":1,"s":"hat"},{"t":2725,"v":2,"s":"hat"},{"t":2735,"v":1,"s":"hat"},{"t":2745,"v":2,"s":"hat"},{"t":2755,"v":0,"s":"hat"},{"t":2765,"v":2,"s":"hat"},{"t":2775,"v":1,"s":"hat"},{"t":2785,"v":2,"s":"hat"},{"t":2795,"v":1,"s":"hat"},{"t":2805,"v":2,"s":"hat"},{"t":2815,"v":0,"s":"hat"},{"t":2825,"v":2,"s":"hat"},{"t":2835,"v":1,"s":"hat"},{"t":2845,"v":2,"s":"hat"},{"t":2855,"v":0,"s":"hat"},{"t":2865,"v":2,"s":"hat"},{"t":2875,"v":1,"s":"hat"},{"t":2885,"v":2,"s":"hat"},{"t":2895,"v":1,"s":"hat"},{"t":2905,"v":2,"s":"hat"},
{"t":520,"v":4.95,"s":"bar"},{"t":600,"v":5,"s":"bar"},{"t":1000,"v":5,"s":"bar"},{"t":1545,"v":5,"s":"bar"},{"t":1560,"v":4.7,"s":"bar"},{"t":1570,"v":3.6,"s":"bar"},{"t":1580,"v":2,"s":"bar"},{"t":1590,"v":0.8,"s":"bar"},{"t":1600,"v":0.3,"s":"bar"},{"t":1610,"v":0.25,"s":"bar"},{"t":1620,"v":0.6,"s":"bar"},{"t":1640,"v":1.2,"s":"bar"},{"t":1660,"v":1.6,"s":"bar"},{"t":1680,"v":1.9,"s":"bar"},{"t":1700,"v":2.2,"s":"bar"},{"t":1720,"v":2.7,"s":"bar"},{"t":1740,"v":3,"s":"bar"},{"t":1780,"v":3,"s":"bar"},{"t":1820,"v":3.05,"s":"bar"},{"t":1860,"v":3,"s":"bar"},{"t":1900,"v":2.9,"s":"bar"},{"t":1930,"v":2.7,"s":"bar"},{"t":1950,"v":2.5,"s":"bar"},{"t":1970,"v":2.6,"s":"bar"},{"t":1990,"v":2.8,"s":"bar"},{"t":2010,"v":3,"s":"bar"},{"t":2030,"v":3,"s":"bar"},{"t":2050,"v":2.9,"s":"bar"},{"t":2070,"v":2.6,"s":"bar"},{"t":2090,"v":2.3,"s":"bar"},{"t":2110,"v":2.5,"s":"bar"},{"t":2130,"v":2.2,"s":"bar"},{"t":2150,"v":2.6,"s":"bar"},{"t":2170,"v":2.4,"s":"bar"},{"t":2190,"v":2.8,"s":"bar"},{"t":2210,"v":2.3,"s":"bar"},{"t":2230,"v":2.7,"s":"bar"},{"t":2250,"v":2.5,"s":"bar"},{"t":2270,"v":2.8,"s":"bar"},{"t":2290,"v":2.2,"s":"bar"},{"t":2310,"v":2.4,"s":"bar"},{"t":2330,"v":2,"s":"bar"},{"t":2350,"v":2.6,"s":"bar"},{"t":2370,"v":2.3,"s":"bar"},{"t":2390,"v":2.7,"s":"bar"},{"t":2410,"v":2.1,"s":"bar"},{"t":2430,"v":2.4,"s":"bar"},{"t":2450,"v":2.2,"s":"bar"},{"t":2470,"v":2.5,"s":"bar"},{"t":2490,"v":2.7,"s":"bar"},{"t":2510,"v":2.8,"s":"bar"},{"t":2530,"v":2.6,"s":"bar"},{"t":2545,"v":2.2,"s":"bar"},{"t":2560,"v":1.6,"s":"bar"},{"t":2580,"v":1.5,"s":"bar"},{"t":2600,"v":1.4,"s":"bar"},{"t":2620,"v":1.3,"s":"bar"},{"t":2640,"v":1.2,"s":"bar"},{"t":2660,"v":1.3,"s":"bar"},{"t":2680,"v":1.2,"s":"bar"},{"t":2700,"v":1.4,"s":"bar"},{"t":2720,"v":1.2,"s":"bar"},{"t":2740,"v":1.3,"s":"bar"},{"t":2760,"v":1.1,"s":"bar"},{"t":2780,"v":1.3,"s":"bar"},{"t":2800,"v":1.2,"s":"bar"},{"t":2820,"v":1.3,"s":"bar"},{"t":2840,"v":1.1,"s":"bar"},{"t":2860,"v":1.3,"s":"bar"},{"t":2880,"v":1.2,"s":"bar"},{"t":2900,"v":1.4,"s":"bar"}
],
"estdots":[{"t":5,"v":0.3},{"t":8,"v":0.8},{"t":10,"v":1.5},{"t":12,"v":2.2},{"t":14,"v":2.8},{"t":18,"v":3.6},{"t":22,"v":4.4},{"t":30,"v":4.8},{"t":45,"v":4.9},{"t":60,"v":4.7},{"t":90,"v":4.5},{"t":110,"v":4.8},{"t":160,"v":4.1},{"t":165,"v":2.4},{"t":200,"v":4.4},{"t":230,"v":4.6},{"t":285,"v":4.1},{"t":300,"v":4.3},{"t":330,"v":4.6},{"t":360,"v":4.8},{"t":420,"v":4.9},{"t":470,"v":4.9}],
"spec":[
{"p":5,"s":"data","f":0,"a":0.136},{"p":5,"s":"data","f":1,"a":0.136},{"p":5,"s":"data","f":2,"a":0.098},{"p":5,"s":"data","f":3,"a":0.073},{"p":5,"s":"data","f":4,"a":0.058},{"p":5,"s":"data","f":6,"a":0.045},{"p":5,"s":"data","f":8,"a":0.039},{"p":5,"s":"data","f":10,"a":0.044},{"p":5,"s":"data","f":12,"a":0.035},{"p":5,"s":"data","f":14,"a":0.029},{"p":5,"s":"data","f":16,"a":0.024},{"p":5,"s":"data","f":18,"a":0.017},{"p":5,"s":"data","f":20,"a":0.009},{"p":5,"s":"data","f":25,"a":0.002},{"p":5,"s":"data","f":30,"a":0.001},{"p":5,"s":"data","f":60,"a":0.001},
{"p":5,"s":"UKF","f":0,"a":0.14},{"p":5,"s":"UKF","f":1,"a":0.14},{"p":5,"s":"UKF","f":2,"a":0.1},{"p":5,"s":"UKF","f":3,"a":0.075},{"p":5,"s":"UKF","f":4,"a":0.06},{"p":5,"s":"UKF","f":5,"a":0.052},{"p":5,"s":"UKF","f":6,"a":0.046},{"p":5,"s":"UKF","f":7,"a":0.042},{"p":5,"s":"UKF","f":8,"a":0.04},{"p":5,"s":"UKF","f":9,"a":0.042},{"p":5,"s":"UKF","f":10,"a":0.045},{"p":5,"s":"UKF","f":11,"a":0.042},{"p":5,"s":"UKF","f":12,"a":0.036},{"p":5,"s":"UKF","f":13,"a":0.033},{"p":5,"s":"UKF","f":14,"a":0.03},{"p":5,"s":"UKF","f":15,"a":0.028},{"p":5,"s":"UKF","f":16,"a":0.025},{"p":5,"s":"UKF","f":18,"a":0.018},{"p":5,"s":"UKF","f":20,"a":0.01},{"p":5,"s":"UKF","f":22,"a":0.005},{"p":5,"s":"UKF","f":25,"a":0.002},{"p":5,"s":"UKF","f":30,"a":0.001},{"p":5,"s":"UKF","f":45,"a":0.001},{"p":5,"s":"UKF","f":60,"a":0.001},
{"p":5,"s":"sim.","f":0,"a":0},{"p":5,"s":"sim.","f":1,"a":0.045},{"p":5,"s":"sim.","f":2,"a":0.05},{"p":5,"s":"sim.","f":3,"a":0.056},{"p":5,"s":"sim.","f":4,"a":0.066},{"p":5,"s":"sim.","f":5,"a":0.06},{"p":5,"s":"sim.","f":6,"a":0.05},{"p":5,"s":"sim.","f":7,"a":0.042},{"p":5,"s":"sim.","f":8,"a":0.036},{"p":5,"s":"sim.","f":9,"a":0.032},{"p":5,"s":"sim.","f":10,"a":0.029},{"p":5,"s":"sim.","f":12,"a":0.025},{"p":5,"s":"sim.","f":14,"a":0.022},{"p":5,"s":"sim.","f":16,"a":0.019},{"p":5,"s":"sim.","f":18,"a":0.017},{"p":5,"s":"sim.","f":20,"a":0.015},{"p":5,"s":"sim.","f":25,"a":0.011},{"p":5,"s":"sim.","f":30,"a":0.008},{"p":5,"s":"sim.","f":40,"a":0.005},{"p":5,"s":"sim.","f":50,"a":0.004},{"p":5,"s":"sim.","f":60,"a":0.003},
{"p":4,"s":"data","f":0,"a":0.12},{"p":4,"s":"data","f":1,"a":0.12},{"p":4,"s":"data","f":2,"a":0.083},{"p":4,"s":"data","f":3,"a":0.054},{"p":4,"s":"data","f":4,"a":0.044},{"p":4,"s":"data","f":6,"a":0.038},{"p":4,"s":"data","f":8,"a":0.037},{"p":4,"s":"data","f":10,"a":0.033},{"p":4,"s":"data","f":12,"a":0.037},{"p":4,"s":"data","f":14,"a":0.045},{"p":4,"s":"data","f":16,"a":0.043},{"p":4,"s":"data","f":18,"a":0.029},{"p":4,"s":"data","f":20,"a":0.014},{"p":4,"s":"data","f":25,"a":0.002},{"p":4,"s":"data","f":30,"a":0.001},{"p":4,"s":"data","f":60,"a":0.001},
{"p":4,"s":"UKF","f":0,"a":0.125},{"p":4,"s":"UKF","f":1,"a":0.125},{"p":4,"s":"UKF","f":2,"a":0.085},{"p":4,"s":"UKF","f":3,"a":0.055},{"p":4,"s":"UKF","f":4,"a":0.045},{"p":4,"s":"UKF","f":5,"a":0.04},{"p":4,"s":"UKF","f":6,"a":0.039},{"p":4,"s":"UKF","f":7,"a":0.038},{"p":4,"s":"UKF","f":8,"a":0.038},{"p":4,"s":"UKF","f":9,"a":0.036},{"p":4,"s":"UKF","f":10,"a":0.034},{"p":4,"s":"UKF","f":11,"a":0.035},{"p":4,"s":"UKF","f":12,"a":0.038},{"p":4,"s":"UKF","f":13,"a":0.042},{"p":4,"s":"UKF","f":14,"a":0.046},{"p":4,"s":"UKF","f":15,"a":0.046},{"p":4,"s":"UKF","f":16,"a":0.044},{"p":4,"s":"UKF","f":17,"a":0.038},{"p":4,"s":"UKF","f":18,"a":0.03},{"p":4,"s":"UKF","f":20,"a":0.015},{"p":4,"s":"UKF","f":22,"a":0.005},{"p":4,"s":"UKF","f":25,"a":0.002},{"p":4,"s":"UKF","f":30,"a":0.001},{"p":4,"s":"UKF","f":60,"a":0.001},
{"p":4,"s":"sim.","f":0,"a":0},{"p":4,"s":"sim.","f":1,"a":0.048},{"p":4,"s":"sim.","f":2,"a":0.054},{"p":4,"s":"sim.","f":3,"a":0.058},{"p":4,"s":"sim.","f":4,"a":0.056},{"p":4,"s":"sim.","f":5,"a":0.05},{"p":4,"s":"sim.","f":6,"a":0.045},{"p":4,"s":"sim.","f":8,"a":0.037},{"p":4,"s":"sim.","f":10,"a":0.031},{"p":4,"s":"sim.","f":12,"a":0.027},{"p":4,"s":"sim.","f":14,"a":0.024},{"p":4,"s":"sim.","f":16,"a":0.021},{"p":4,"s":"sim.","f":18,"a":0.018},{"p":4,"s":"sim.","f":20,"a":0.016},{"p":4,"s":"sim.","f":25,"a":0.011},{"p":4,"s":"sim.","f":30,"a":0.008},{"p":4,"s":"sim.","f":40,"a":0.005},{"p":4,"s":"sim.","f":50,"a":0.004},{"p":4,"s":"sim.","f":60,"a":0.003},
{"p":3,"s":"data","f":0,"a":0.08},{"p":3,"s":"data","f":0.5,"a":0.08},{"p":3,"s":"data","f":1,"a":0.07},{"p":3,"s":"data","f":2,"a":0.045},{"p":3,"s":"data","f":3,"a":0.03},{"p":3,"s":"data","f":4,"a":0.026},{"p":3,"s":"data","f":5,"a":0.025},{"p":3,"s":"data","f":6,"a":0.027},{"p":3,"s":"data","f":8,"a":0.035},{"p":3,"s":"data","f":10,"a":0.045},{"p":3,"s":"data","f":12,"a":0.056},{"p":3,"s":"data","f":14,"a":0.063},{"p":3,"s":"data","f":16,"a":0.052},{"p":3,"s":"data","f":18,"a":0.033},{"p":3,"s":"data","f":20,"a":0.015},{"p":3,"s":"data","f":22,"a":0.006},{"p":3,"s":"data","f":25,"a":0.002},{"p":3,"s":"data","f":30,"a":0.001},{"p":3,"s":"data","f":60,"a":0.001},
{"p":3,"s":"UKF","f":0,"a":0.077},{"p":3,"s":"UKF","f":0.5,"a":0.077},{"p":3,"s":"UKF","f":1,"a":0.066},{"p":3,"s":"UKF","f":2,"a":0.043},{"p":3,"s":"UKF","f":3,"a":0.029},{"p":3,"s":"UKF","f":4,"a":0.026},{"p":3,"s":"UKF","f":5,"a":0.026},{"p":3,"s":"UKF","f":6,"a":0.028},{"p":3,"s":"UKF","f":7,"a":0.031},{"p":3,"s":"UKF","f":8,"a":0.036},{"p":3,"s":"UKF","f":9,"a":0.041},{"p":3,"s":"UKF","f":10,"a":0.046},{"p":3,"s":"UKF","f":11,"a":0.051},{"p":3,"s":"UKF","f":12,"a":0.057},{"p":3,"s":"UKF","f":13,"a":0.062},{"p":3,"s":"UKF","f":14,"a":0.064},{"p":3,"s":"UKF","f":15,"a":0.06},{"p":3,"s":"UKF","f":16,"a":0.052},{"p":3,"s":"UKF","f":17,"a":0.043},{"p":3,"s":"UKF","f":18,"a":0.033},{"p":3,"s":"UKF","f":20,"a":0.015},{"p":3,"s":"UKF","f":22,"a":0.006},{"p":3,"s":"UKF","f":25,"a":0.002},{"p":3,"s":"UKF","f":30,"a":0.001},{"p":3,"s":"UKF","f":60,"a":0.001},
{"p":3,"s":"sim.","f":0,"a":0},{"p":3,"s":"sim.","f":1,"a":0.018},{"p":3,"s":"sim.","f":2,"a":0.02},{"p":3,"s":"sim.","f":3,"a":0.021},{"p":3,"s":"sim.","f":4,"a":0.022},{"p":3,"s":"sim.","f":5,"a":0.024},{"p":3,"s":"sim.","f":6,"a":0.027},{"p":3,"s":"sim.","f":7,"a":0.032},{"p":3,"s":"sim.","f":8,"a":0.038},{"p":3,"s":"sim.","f":9,"a":0.046},{"p":3,"s":"sim.","f":10,"a":0.053},{"p":3,"s":"sim.","f":11,"a":0.057},{"p":3,"s":"sim.","f":12,"a":0.052},{"p":3,"s":"sim.","f":13,"a":0.044},{"p":3,"s":"sim.","f":14,"a":0.037},{"p":3,"s":"sim.","f":15,"a":0.031},{"p":3,"s":"sim.","f":16,"a":0.027},{"p":3,"s":"sim.","f":18,"a":0.021},{"p":3,"s":"sim.","f":20,"a":0.017},{"p":3,"s":"sim.","f":22,"a":0.014},{"p":3,"s":"sim.","f":25,"a":0.011},{"p":3,"s":"sim.","f":30,"a":0.008},{"p":3,"s":"sim.","f":40,"a":0.005},{"p":3,"s":"sim.","f":50,"a":0.004},{"p":3,"s":"sim.","f":60,"a":0.003},
{"p":2,"s":"data","f":0,"a":0.064},{"p":2,"s":"data","f":0.5,"a":0.064},{"p":2,"s":"data","f":1,"a":0.055},{"p":2,"s":"data","f":2,"a":0.04},{"p":2,"s":"data","f":3,"a":0.03},{"p":2,"s":"data","f":4,"a":0.028},{"p":2,"s":"data","f":6,"a":0.03},{"p":2,"s":"data","f":8,"a":0.038},{"p":2,"s":"data","f":10,"a":0.048},{"p":2,"s":"data","f":12,"a":0.063},{"p":2,"s":"data","f":14,"a":0.07},{"p":2,"s":"data","f":16,"a":0.055},{"p":2,"s":"data","f":18,"a":0.032},{"p":2,"s":"data","f":20,"a":0.014},{"p":2,"s":"data","f":22,"a":0.006},{"p":2,"s":"data","f":25,"a":0.002},{"p":2,"s":"data","f":30,"a":0.001},{"p":2,"s":"data","f":60,"a":0.001},
{"p":2,"s":"UKF","f":0,"a":0.062},{"p":2,"s":"UKF","f":0.5,"a":0.062},{"p":2,"s":"UKF","f":1,"a":0.052},{"p":2,"s":"UKF","f":2,"a":0.038},{"p":2,"s":"UKF","f":3,"a":0.03},{"p":2,"s":"UKF","f":4,"a":0.029},{"p":2,"s":"UKF","f":5,"a":0.029},{"p":2,"s":"UKF","f":6,"a":0.031},{"p":2,"s":"UKF","f":7,"a":0.034},{"p":2,"s":"UKF","f":8,"a":0.039},{"p":2,"s":"UKF","f":9,"a":0.044},{"p":2,"s":"UKF","f":10,"a":0.05},{"p":2,"s":"UKF","f":11,"a":0.058},{"p":2,"s":"UKF","f":12,"a":0.065},{"p":2,"s":"UKF","f":13,"a":0.069},{"p":2,"s":"UKF","f":14,"a":0.071},{"p":2,"s":"UKF","f":15,"a":0.066},{"p":2,"s":"UKF","f":16,"a":0.055},{"p":2,"s":"UKF","f":17,"a":0.043},{"p":2,"s":"UKF","f":18,"a":0.032},{"p":2,"s":"UKF","f":20,"a":0.014},{"p":2,"s":"UKF","f":22,"a":0.006},{"p":2,"s":"UKF","f":25,"a":0.002},{"p":2,"s":"UKF","f":30,"a":0.001},{"p":2,"s":"UKF","f":60,"a":0.001},
{"p":2,"s":"sim.","f":0,"a":0},{"p":2,"s":"sim.","f":1,"a":0.018},{"p":2,"s":"sim.","f":2,"a":0.02},{"p":2,"s":"sim.","f":3,"a":0.021},{"p":2,"s":"sim.","f":4,"a":0.021},{"p":2,"s":"sim.","f":5,"a":0.022},{"p":2,"s":"sim.","f":6,"a":0.024},{"p":2,"s":"sim.","f":7,"a":0.026},{"p":2,"s":"sim.","f":8,"a":0.029},{"p":2,"s":"sim.","f":9,"a":0.033},{"p":2,"s":"sim.","f":10,"a":0.038},{"p":2,"s":"sim.","f":11,"a":0.045},{"p":2,"s":"sim.","f":12,"a":0.054},{"p":2,"s":"sim.","f":13,"a":0.063},{"p":2,"s":"sim.","f":14,"a":0.066},{"p":2,"s":"sim.","f":15,"a":0.057},{"p":2,"s":"sim.","f":16,"a":0.046},{"p":2,"s":"sim.","f":17,"a":0.037},{"p":2,"s":"sim.","f":18,"a":0.031},{"p":2,"s":"sim.","f":20,"a":0.023},{"p":2,"s":"sim.","f":22,"a":0.018},{"p":2,"s":"sim.","f":25,"a":0.013},{"p":2,"s":"sim.","f":30,"a":0.009},{"p":2,"s":"sim.","f":40,"a":0.005},{"p":2,"s":"sim.","f":50,"a":0.004},{"p":2,"s":"sim.","f":60,"a":0.003},
{"p":1,"s":"data","f":0,"a":0.055},{"p":1,"s":"data","f":0.5,"a":0.055},{"p":1,"s":"data","f":1,"a":0.045},{"p":1,"s":"data","f":2,"a":0.03},{"p":1,"s":"data","f":3,"a":0.025},{"p":1,"s":"data","f":4,"a":0.027},{"p":1,"s":"data","f":6,"a":0.031},{"p":1,"s":"data","f":8,"a":0.035},{"p":1,"s":"data","f":10,"a":0.052},{"p":1,"s":"data","f":12,"a":0.078},{"p":1,"s":"data","f":13,"a":0.085},{"p":1,"s":"data","f":14,"a":0.075},{"p":1,"s":"data","f":16,"a":0.038},{"p":1,"s":"data","f":18,"a":0.015},{"p":1,"s":"data","f":20,"a":0.006},{"p":1,"s":"data","f":25,"a":0.002},{"p":1,"s":"data","f":30,"a":0.001},{"p":1,"s":"data","f":60,"a":0.001},
{"p":1,"s":"UKF","f":0,"a":0.05},{"p":1,"s":"UKF","f":0.5,"a":0.05},{"p":1,"s":"UKF","f":1,"a":0.042},{"p":1,"s":"UKF","f":2,"a":0.029},{"p":1,"s":"UKF","f":3,"a":0.025},{"p":1,"s":"UKF","f":4,"a":0.027},{"p":1,"s":"UKF","f":5,"a":0.03},{"p":1,"s":"UKF","f":6,"a":0.031},{"p":1,"s":"UKF","f":7,"a":0.033},{"p":1,"s":"UKF","f":8,"a":0.036},{"p":1,"s":"UKF","f":9,"a":0.043},{"p":1,"s":"UKF","f":10,"a":0.053},{"p":1,"s":"UKF","f":11,"a":0.066},{"p":1,"s":"UKF","f":12,"a":0.079},{"p":1,"s":"UKF","f":13,"a":0.086},{"p":1,"s":"UKF","f":14,"a":0.074},{"p":1,"s":"UKF","f":15,"a":0.054},{"p":1,"s":"UKF","f":16,"a":0.037},{"p":1,"s":"UKF","f":17,"a":0.024},{"p":1,"s":"UKF","f":18,"a":0.015},{"p":1,"s":"UKF","f":20,"a":0.006},{"p":1,"s":"UKF","f":22,"a":0.003},{"p":1,"s":"UKF","f":25,"a":0.002},{"p":1,"s":"UKF","f":30,"a":0.001},{"p":1,"s":"UKF","f":60,"a":0.001},
{"p":1,"s":"sim.","f":0,"a":0},{"p":1,"s":"sim.","f":1,"a":0.012},{"p":1,"s":"sim.","f":2,"a":0.013},{"p":1,"s":"sim.","f":3,"a":0.013},{"p":1,"s":"sim.","f":4,"a":0.014},{"p":1,"s":"sim.","f":5,"a":0.015},{"p":1,"s":"sim.","f":6,"a":0.016},{"p":1,"s":"sim.","f":7,"a":0.018},{"p":1,"s":"sim.","f":8,"a":0.021},{"p":1,"s":"sim.","f":9,"a":0.025},{"p":1,"s":"sim.","f":10,"a":0.032},{"p":1,"s":"sim.","f":11,"a":0.042},{"p":1,"s":"sim.","f":12,"a":0.06},{"p":1,"s":"sim.","f":13,"a":0.085},{"p":1,"s":"sim.","f":13.5,"a":0.092},{"p":1,"s":"sim.","f":14,"a":0.085},{"p":1,"s":"sim.","f":15,"a":0.06},{"p":1,"s":"sim.","f":16,"a":0.044},{"p":1,"s":"sim.","f":17,"a":0.034},{"p":1,"s":"sim.","f":18,"a":0.027},{"p":1,"s":"sim.","f":20,"a":0.019},{"p":1,"s":"sim.","f":22,"a":0.015},{"p":1,"s":"sim.","f":25,"a":0.011},{"p":1,"s":"sim.","f":30,"a":0.007},{"p":1,"s":"sim.","f":40,"a":0.004},{"p":1,"s":"sim.","f":50,"a":0.003},{"p":1,"s":"sim.","f":60,"a":0.002},
{"p":0,"s":"data","f":0,"a":0.096},{"p":0,"s":"data","f":0.5,"a":0.095},{"p":0,"s":"data","f":1,"a":0.07},{"p":0,"s":"data","f":2,"a":0.04},{"p":0,"s":"data","f":3,"a":0.032},{"p":0,"s":"data","f":4,"a":0.04},{"p":0,"s":"data","f":5,"a":0.035},{"p":0,"s":"data","f":6,"a":0.042},{"p":0,"s":"data","f":8,"a":0.05},{"p":0,"s":"data","f":10,"a":0.066},{"p":0,"s":"data","f":11,"a":0.074},{"p":0,"s":"data","f":12,"a":0.07},{"p":0,"s":"data","f":14,"a":0.045},{"p":0,"s":"data","f":16,"a":0.025},{"p":0,"s":"data","f":18,"a":0.012},{"p":0,"s":"data","f":20,"a":0.006},{"p":0,"s":"data","f":25,"a":0.002},{"p":0,"s":"data","f":30,"a":0.001},{"p":0,"s":"data","f":60,"a":0.001},
{"p":0,"s":"UKF","f":0,"a":0.09},{"p":0,"s":"UKF","f":0.5,"a":0.09},{"p":0,"s":"UKF","f":1,"a":0.066},{"p":0,"s":"UKF","f":2,"a":0.038},{"p":0,"s":"UKF","f":3,"a":0.031},{"p":0,"s":"UKF","f":4,"a":0.041},{"p":0,"s":"UKF","f":5,"a":0.034},{"p":0,"s":"UKF","f":6,"a":0.043},{"p":0,"s":"UKF","f":7,"a":0.046},{"p":0,"s":"UKF","f":8,"a":0.05},{"p":0,"s":"UKF","f":9,"a":0.056},{"p":0,"s":"UKF","f":10,"a":0.066},{"p":0,"s":"UKF","f":11,"a":0.074},{"p":0,"s":"UKF","f":12,"a":0.07},{"p":0,"s":"UKF","f":13,"a":0.058},{"p":0,"s":"UKF","f":14,"a":0.045},{"p":0,"s":"UKF","f":15,"a":0.034},{"p":0,"s":"UKF","f":16,"a":0.025},{"p":0,"s":"UKF","f":18,"a":0.012},{"p":0,"s":"UKF","f":20,"a":0.006},{"p":0,"s":"UKF","f":22,"a":0.003},{"p":0,"s":"UKF","f":25,"a":0.002},{"p":0,"s":"UKF","f":30,"a":0.001},{"p":0,"s":"UKF","f":60,"a":0.001},
{"p":0,"s":"sim.","f":0,"a":0},{"p":0,"s":"sim.","f":1,"a":0.015},{"p":0,"s":"sim.","f":2,"a":0.016},{"p":0,"s":"sim.","f":3,"a":0.017},{"p":0,"s":"sim.","f":4,"a":0.018},{"p":0,"s":"sim.","f":5,"a":0.02},{"p":0,"s":"sim.","f":6,"a":0.022},{"p":0,"s":"sim.","f":7,"a":0.026},{"p":0,"s":"sim.","f":8,"a":0.031},{"p":0,"s":"sim.","f":9,"a":0.038},{"p":0,"s":"sim.","f":10,"a":0.046},{"p":0,"s":"sim.","f":11,"a":0.052},{"p":0,"s":"sim.","f":12,"a":0.05},{"p":0,"s":"sim.","f":13,"a":0.045},{"p":0,"s":"sim.","f":14,"a":0.039},{"p":0,"s":"sim.","f":15,"a":0.033},{"p":0,"s":"sim.","f":16,"a":0.029},{"p":0,"s":"sim.","f":18,"a":0.022},{"p":0,"s":"sim.","f":20,"a":0.017},{"p":0,"s":"sim.","f":22,"a":0.014},{"p":0,"s":"sim.","f":25,"a":0.011},{"p":0,"s":"sim.","f":30,"a":0.008},{"p":0,"s":"sim.","f":40,"a":0.005},{"p":0,"s":"sim.","f":50,"a":0.004},{"p":0,"s":"sim.","f":60,"a":0.003}
]
}
}
